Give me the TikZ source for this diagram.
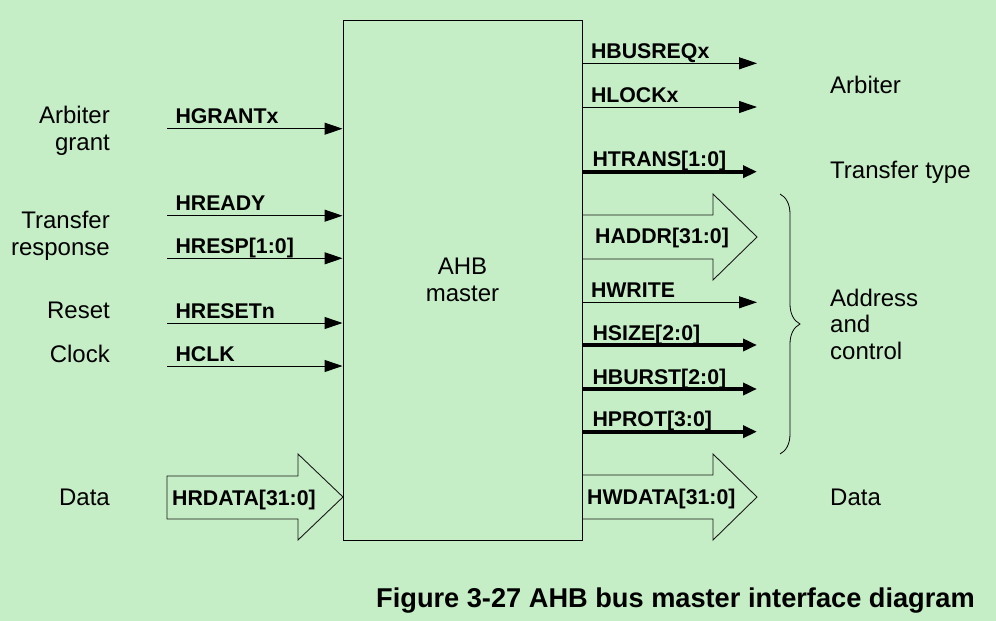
\documentclass[tikz,border=0pt]{standalone}
\usepackage{fontspec}
\setmainfont{Liberation Sans}
\usetikzlibrary{positioning,arrows.meta,calc,decorations.pathreplacing}
\definecolor{panel}{RGB}{198,238,198}

\begin{document}
\begin{tikzpicture}[
    x=1pt, y=-1pt,
    font=\fontsize{24}{26.5}\selectfont,
    every node/.style={inner sep=0pt},
    sig/.style={line width=1pt, -{Triangle[length=18pt,width=12pt]}},
    bus/.style={line width=4pt, -{Triangle[length=14pt,width=12pt]}},
    fat/.style={draw=black!90, line width=0.9pt},
    sigtext/.style={font=\fontsize{21.3}{24}\selectfont\bfseries, anchor=base west},
    outlbl/.style={pos=0, sigtext, xshift=8pt, yshift=5pt},
    side/.style={anchor=east, align=right}
]

% Background
\fill[panel] (0,0) rectangle (996,621);
\useasboundingbox (0,0) rectangle (996,621);

% Master block
\node[
    draw,
    line width=1pt,
    minimum width=239pt,
    minimum height=520pt,
    align=center
] (master) at (462.5,280) {AHB\\master};

% Inputs
\coordinate (grantIn) at (167,128.7);
\coordinate (readyIn) at (167,215.7);
\coordinate (respIn) at (167,258.3);
\coordinate (resetIn) at (167,323);
\coordinate (clkIn) at (167,366);

\draw[sig] (grantIn) -- (grantIn -| master.west)
    node[outlbl] (grantLbl) {HGRANTx};
\draw[sig] (readyIn) -- (readyIn -| master.west)
    node[outlbl] (readyLbl) {HREADY};
\draw[sig] (respIn) -- (respIn -| master.west)
    node[outlbl] (respLbl) {HRESP[1:0]};
\draw[sig] (resetIn) -- (resetIn -| master.west)
    node[outlbl] (resetLbl) {HRESETn};
\draw[sig] (clkIn) -- (clkIn -| master.west)
    node[outlbl] (clkLbl) {HCLK};

% Outputs
\coordinate (busreqOut) at (757,63.3);
\coordinate (lockOut) at (757,107);
\coordinate (transOut) at (757,171.7);
\coordinate (writeOut) at (757,302.3);
\coordinate (sizeOut) at (757,345);
\coordinate (burstOut) at (757,389);
\coordinate (protOut) at (757,431.7);

\draw[sig] (busreqOut -| master.east) -- (busreqOut)
    node[outlbl] (busreqLbl) {HBUSREQx};
\draw[sig] (lockOut -| master.east) -- (lockOut)
    node[outlbl] (lockLbl) {HLOCKx};
\draw[bus] (transOut -| master.east) -- (transOut)
    node[outlbl] (transLbl) {HTRANS[1:0]};
\draw[sig] (writeOut -| master.east) -- (writeOut)
    node[outlbl] (writeLbl) {HWRITE};
\draw[bus] (sizeOut -| master.east) -- (sizeOut)
    node[outlbl] (sizeLbl) {HSIZE[2:0]};
\draw[bus] (burstOut -| master.east) -- (burstOut)
    node[outlbl] (burstLbl) {HBURST[2:0]};
\draw[bus] (protOut -| master.east) -- (protOut)
    node[outlbl] (protLbl) {HPROT[3:0]};

% Wide buses
\draw[fat] (582,215) -- (713,215) -- (713,194) -- (757,237)
    -- (713,280) -- (713,259) -- (582,259);
\node[sigtext] (addrLbl) at (595,243) {HADDR[31:0]};

\draw[fat] (582,475) -- (713,475) -- (713,454) -- (757,497)
    -- (713,540) -- (713,519) -- (582,519);
\node[sigtext] (wdataLbl) at (587,504) {HWDATA[31:0]};

\draw[fat] (167,476) -- (298,476) -- (298,454) -- (343,497)
    -- (298,540) -- (298,519) -- (167,519) -- cycle;
\node[sigtext] (rdataLbl) at (172,505) {HRDATA[31:0]};

% Brace
\coordinate (braceTop) at (780,194);
\coordinate (braceBot) at (780,454);
\draw[decorate, decoration={brace, amplitude=20pt}, line width=0.8pt]
    (braceTop) -- (braceBot);

% Left side labels
\node[side] (grantTxt) at (110,131) {Arbiter\\grant};
\node[side] (respTxt) at (110,236) {Transfer\\response};
\node[anchor=base east] (resetTxt) at (110,318) {Reset};
\node[anchor=base east] (clkTxt) at (110,362) {Clock};
\node[anchor=base east] (rdataTxt) at (110,505) {Data};

% Right side labels
\node[anchor=base west] (arbTxt) at (830,93) {Arbiter};
\node[anchor=base west] (transTxt) at (830,178) {Transfer type};
\node[anchor=west, align=left] (ctrlTxt) at (830,324) {Address\\and\\control};
\node[anchor=base west] (wdataTxt) at (830,505) {Data};

% Caption
\node[anchor=base east, font=\fontsize{27.2}{30}\selectfont\bfseries]
    (caption) at (975,607) {Figure 3-27 AHB bus master interface diagram};

\end{tikzpicture}
\end{document}
